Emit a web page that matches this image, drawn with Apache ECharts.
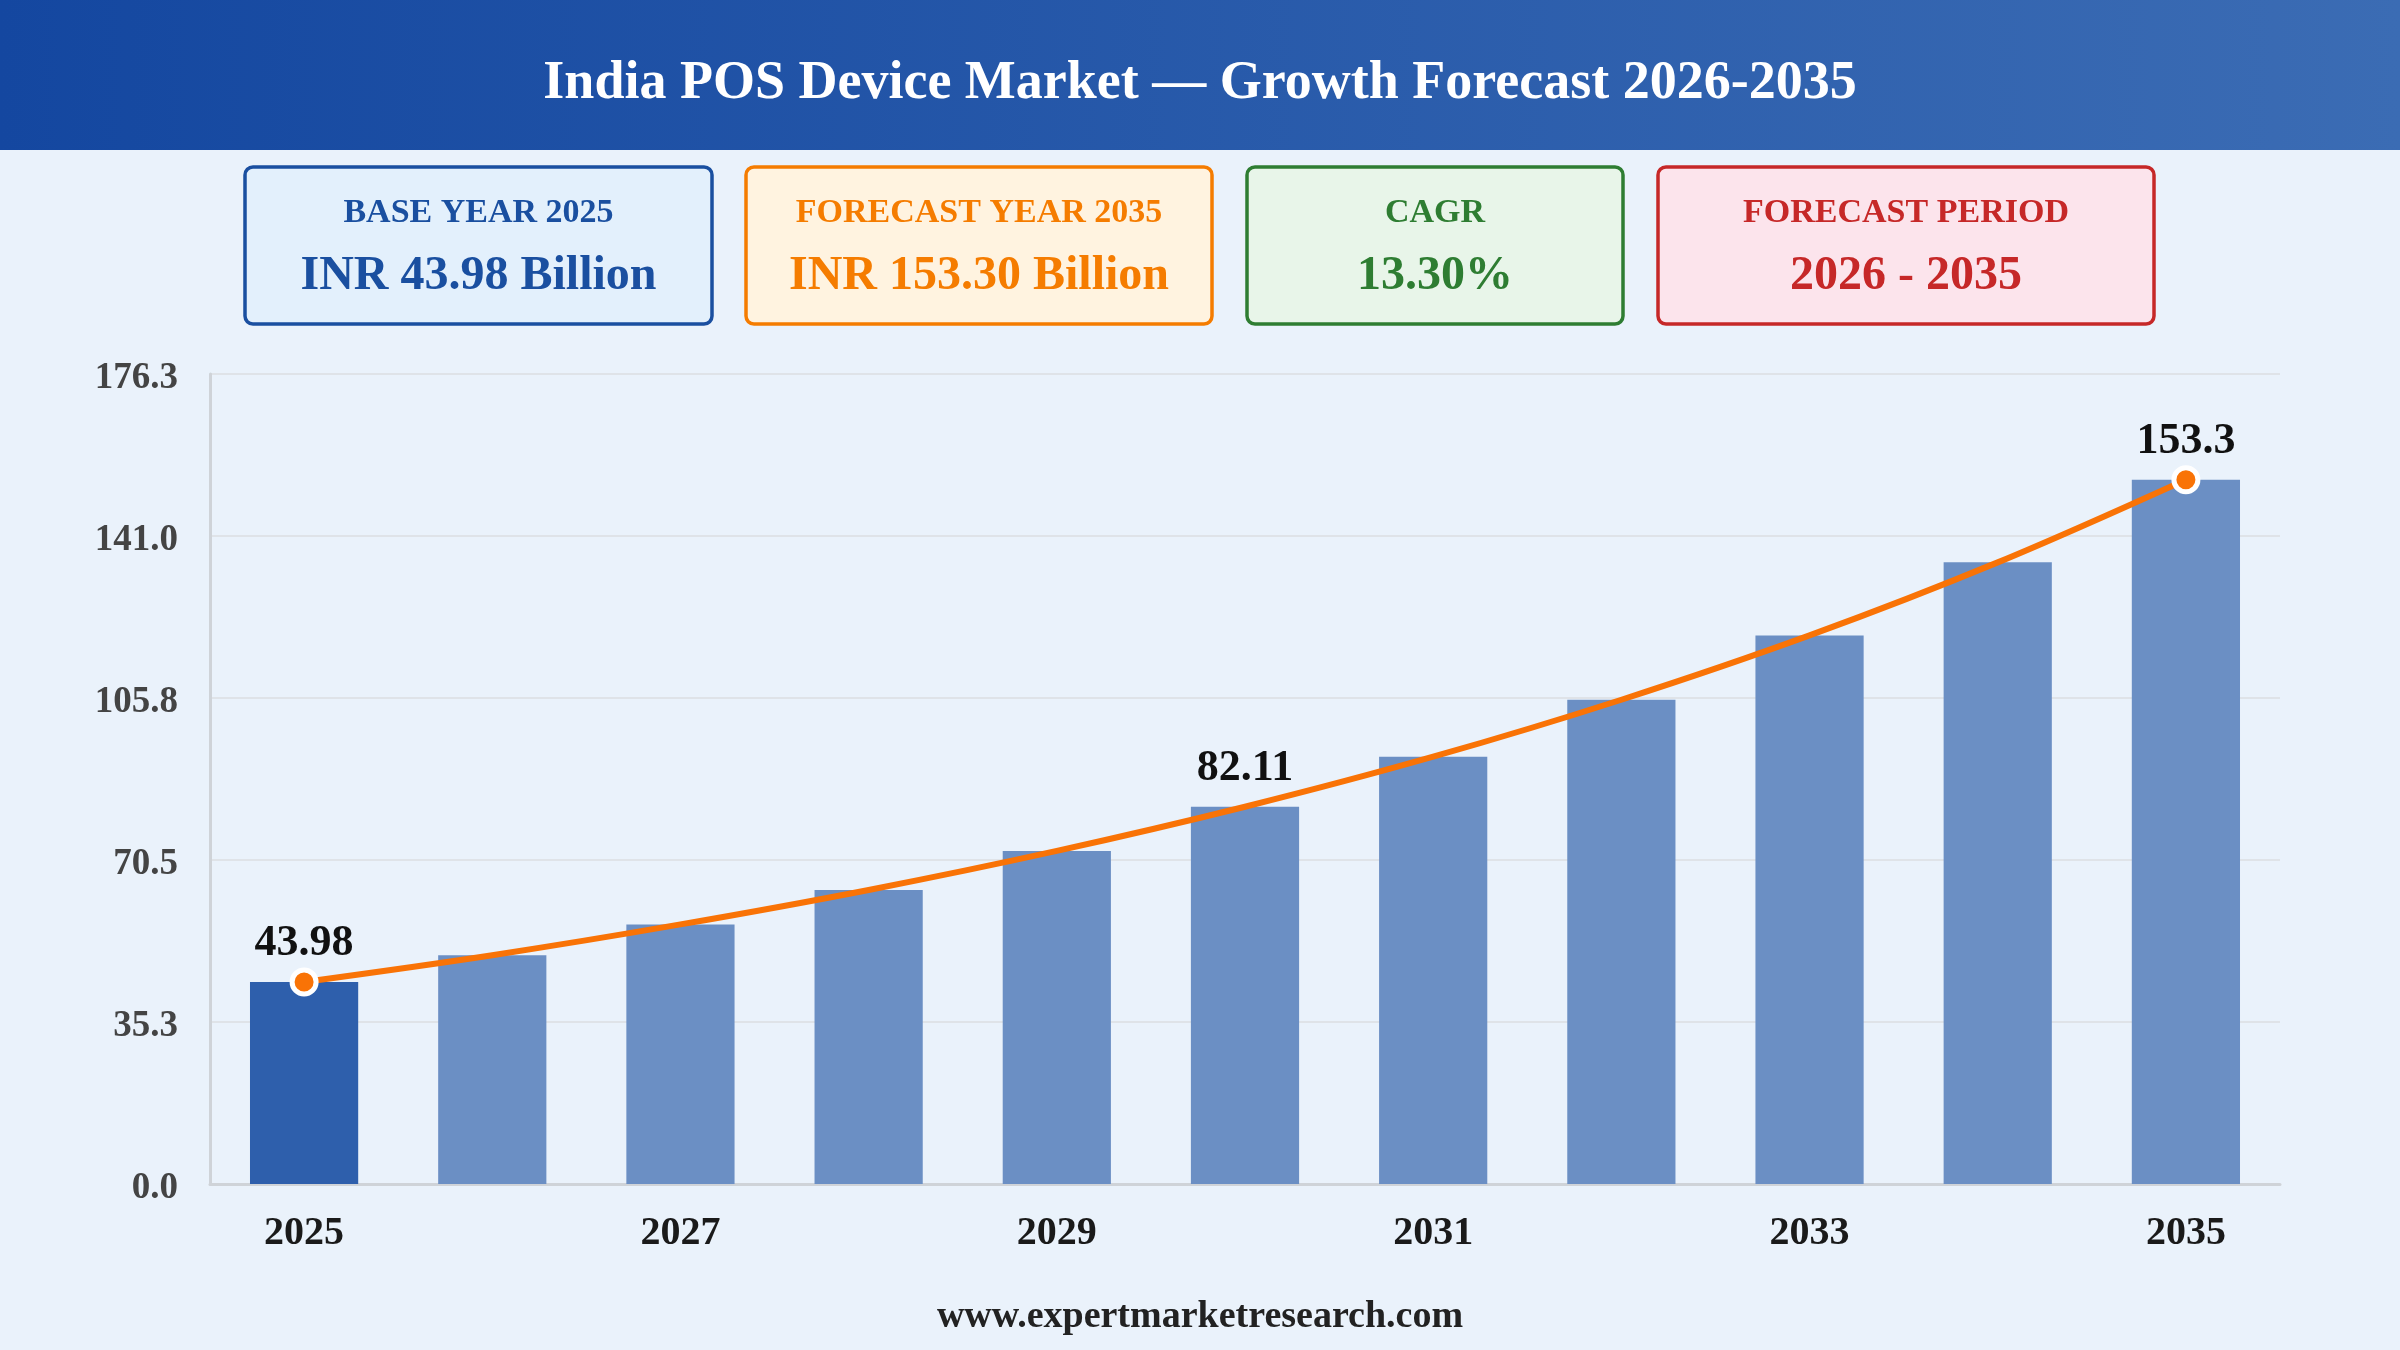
<!DOCTYPE html>
<html>
<head>
<meta charset="utf-8">
<script src="https://cdn.jsdelivr.net/npm/echarts@6/dist/echarts.min.js"></script>
<style>
html,body{margin:0;padding:0;background:#eaf2fb;}
#chart{width:2400px;height:1350px;}
</style>
</head>
<body>
<div id="chart"></div>
<script>
const years = ['2025','2026','2027','2028','2029','2030','2031','2032','2033','2034','2035'];
const marketValues = [43.98, 49.8, 56.5, 64.0, 72.5, 82.11, 93.0, 105.4, 119.4, 135.3, 153.3];
const labeledIndices = [0, 5, 10];
const markerIndices = [0, 10];
const yAxisMax = 176.3;
const yAxisStep = 35.26;
const titleText = 'India POS Device Market — Growth Forecast 2026-2035';
const cardLabels = ['BASE YEAR 2025', 'FORECAST YEAR 2035', 'CAGR', 'FORECAST PERIOD'];
const cardValues = ['INR 43.98 Billion', 'INR 153.30 Billion', '13.30%', '2026 - 2035'];
const footerText = 'www.expertmarketresearch.com';

const FONT = '"Liberation Serif", "Times New Roman", serif';
const cardStyles = [
  {x:245, w:467, fill:'#e3f0fc', color:'#1a4fa0'},
  {x:746, w:466, fill:'#fff3e0', color:'#f57c00'},
  {x:1247, w:376, fill:'#e8f5e9', color:'#2e7d32'},
  {x:1658, w:496, fill:'#fce4ec', color:'#c62828'}
];

const graphics = [
  {type:'rect', shape:{x:0,y:0,width:2400,height:150}, z:0,
   style:{fill:new echarts.graphic.LinearGradient(0,0,1,0,[{offset:0,color:'#1447a0'},{offset:1,color:'#3b6cb4'}])}},
  {type:'text', x:1200, y:84, z:10,
   style:{text:titleText, fill:'#ffffff', font:'bold 54px ' + FONT, textAlign:'center', textVerticalAlign:'middle'}},
  {type:'text', x:1200, y:1317, z:10,
   style:{text:footerText, fill:'#222222', font:'bold 38px ' + FONT, textAlign:'center', textVerticalAlign:'middle'}}
];
cardStyles.forEach((c, i) => {
  graphics.push({type:'rect', shape:{x:c.x, y:167, width:c.w, height:157, r:8}, z:5,
    style:{fill:c.fill, stroke:c.color, lineWidth:3.5}});
  graphics.push({type:'text', x:c.x + c.w/2, y:213, z:10,
    style:{text:cardLabels[i], fill:c.color, font:'bold 34px ' + FONT, textAlign:'center', textVerticalAlign:'middle'}});
  graphics.push({type:'text', x:c.x + c.w/2, y:277, z:10,
    style:{text:cardValues[i], fill:c.color, font:'bold 48px ' + FONT, textAlign:'center', textVerticalAlign:'middle'}});
});

const chart = echarts.init(document.getElementById('chart'));
chart.setOption({
  backgroundColor:'#eaf2fb',
  animation:false,
  graphic: graphics,
  grid:{left:210, right:120, top:374, bottom:166, containLabel:false},
  xAxis:{
    type:'category', data:years,
    axisTick:{show:false},
    axisLine:{show:true, lineStyle:{color:'#cfd3d8', width:3}},
    axisLabel:{interval:1, margin:30, color:'#1a1a1a', fontFamily:FONT, fontWeight:'bold', fontSize:40}
  },
  yAxis:{
    type:'value', min:0, max:yAxisMax, interval:yAxisStep,
    axisLine:{show:true, lineStyle:{color:'#cfd3d8', width:3}},
    axisTick:{show:false},
    splitLine:{lineStyle:{color:'#dfe3e8', width:2}},
    axisLabel:{margin:32, color:'#444444', fontFamily:FONT, fontWeight:'bold', fontSize:37,
      formatter:v => '{a|' + v.toFixed(1) + '}',
      rich:{a:{color:'#444444', fontFamily:FONT, fontWeight:'bold', fontSize:37, padding:[8,0,0,0]}}}
  },
  series:[
    {
      type:'bar', barWidth:'57.5%',
      data: marketValues.map((v, i) => ({
        value:v,
        itemStyle:{color: i === 0 ? '#2e5fac' : '#6b8fc4'},
        label:{show: labeledIndices.includes(i)}
      })),
      label:{position:'top', distance:16, color:'#111111', fontFamily:FONT, fontWeight:'bold', fontSize:44,
        formatter:p => years[p.dataIndex] === '2035' ? p.value.toFixed(1) : p.value.toFixed(2)},
      z:2
    },
    {
      type:'line', data:marketValues, smooth:0.35,
      showSymbol:true, showAllSymbol:true, symbol:'circle',
      symbolSize:(v, p) => markerIndices.includes(p.dataIndex) ? 24 : 0,
      lineStyle:{color:'#f97306', width:6},
      itemStyle:{color:'#f97306', borderColor:'#ffffff', borderWidth:5},
      z:5
    }
  ]
});
</script>
</body>
</html>
